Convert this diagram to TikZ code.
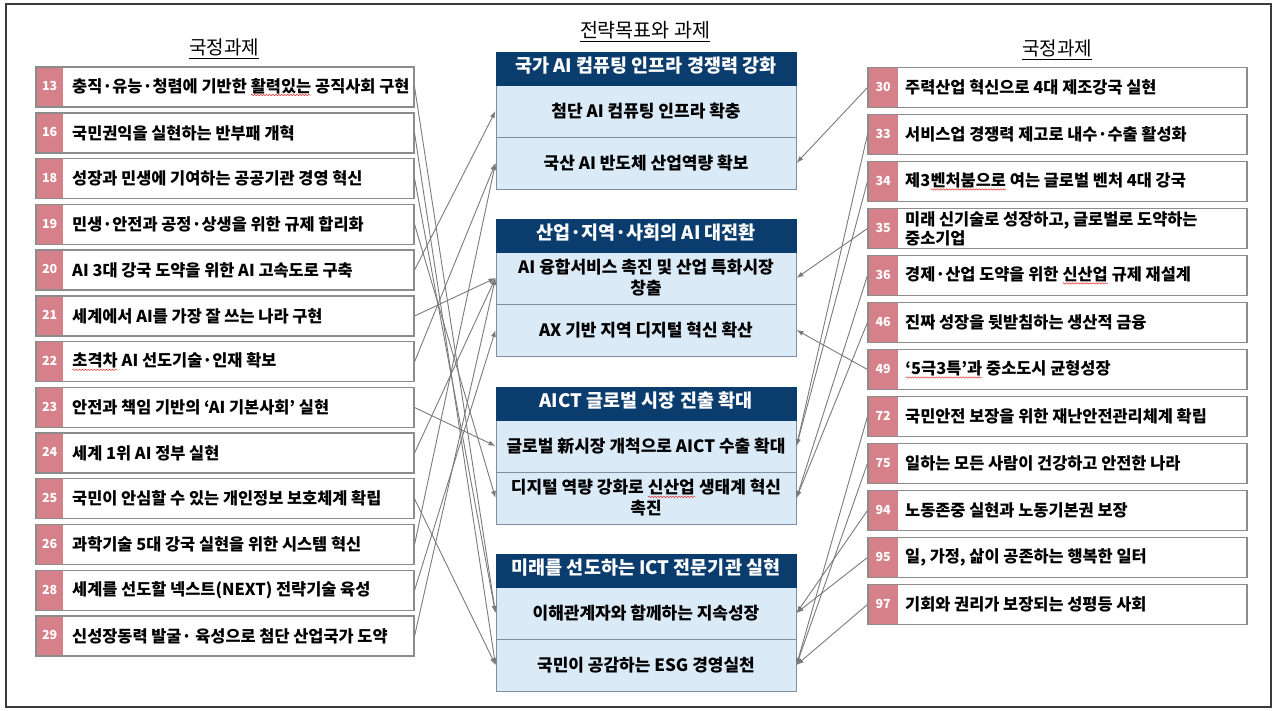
\documentclass[tikz,border=0pt]{standalone}
\usepackage{fontspec}
\setmainfont{Noto Sans CJK KR}
\usetikzlibrary{arrows.meta,calc,decorations.pathmorphing}
\definecolor{numpink}{RGB}{214,128,138}
\definecolor{navy}{HTML}{0B3C6E}
\definecolor{lblue}{HTML}{DAEAF7}
\definecolor{rowborder}{HTML}{7F8FA0}
\definecolor{boxgray}{HTML}{8C8C8C}
\definecolor{linegray}{HTML}{7A7A7A}
\definecolor{framegray}{HTML}{3A3A3A}
\definecolor{squigred}{HTML}{E03030}
\newcommand{\spellmark}[1]{\tikz[baseline=(sw.base)]{\node[inner sep=0pt, outer sep=0pt, minimum width=0pt, minimum height=0pt, draw=none, fill=none, anchor=base, text height=, text depth=] (sw) {#1};
  \draw[squigred, line width=0.5pt, decorate, decoration={snake, segment length=3pt, amplitude=0.7pt}]
   ($(sw.base west)+(0,3)$) -- ($(sw.base east)+(0,3)$);}}
\begin{document}
\begin{tikzpicture}[x=1pt,y=-1pt,
  lbox/.style={draw=boxgray, line width=1.1pt, minimum width=378pt, minimum height=40pt, inner sep=0pt},
  rbox/.style={draw=boxgray, line width=1.1pt, minimum width=379pt, minimum height=40pt, inner sep=0pt},
  ncell/.style={fill=numpink, text=white, font=\bfseries\fontsize{12.5}{12}\selectfont, inner sep=0pt, minimum height=40pt, anchor=west, text height=0.85em, text depth=0.1em},
  btext/.style={font=\bfseries\fontsize{16.4}{19}\selectfont, anchor=west, inner sep=0pt, align=left},
  head/.style={fill=navy, draw=navy, text=white, minimum width=300pt, minimum height=33pt, font=\bfseries\fontsize{18.5}{20}\selectfont, inner sep=0pt, text height=0.85em, text depth=0.1em},
  row/.style={fill=lblue, draw=rowborder, line width=1pt, minimum width=300pt, minimum height=52pt, font=\bfseries\fontsize{17}{21}\selectfont, align=center, inner sep=0pt},
  conn/.style={draw=linegray, line width=0.9pt, -{Latex[length=7pt,width=5pt]}},
  ttl/.style={inner sep=0pt, text height=0.85em, text depth=0.1em}
]
\useasboundingbox (0,0) rectangle (1275,710);
\draw[line width=1.6pt, draw=framegray] (6,4) rectangle (1271,707);

% titles
\node[ttl, font=\fontsize{19}{20}\selectfont] (tL) at (224,51) {국정과제};
\node[ttl, font=\fontsize{19.5}{20}\selectfont] (tC) at (645,34) {전략목표와 과제};
\node[ttl, font=\fontsize{19}{20}\selectfont] (tR) at (1057,52) {국정과제};
\foreach \t in {tL,tC,tR}
  \draw[line width=0.9pt] ($(\t.south west)+(0,2)$) -- ($(\t.south east)+(0,2)$);

% left column
\foreach \n/\y/\t in {
 13/87/{충직·유능·청렴에 기반한 \spellmark{활력있는} 공직사회 구현},
 16/133/{국민권익을 실현하는 반부패 개혁},
 18/178.5/{성장과 민생에 기여하는 공공기관 경영 혁신},
 19/224.3/{민생·안전과 공정·상생을 위한 규제 합리화},
 20/270/{AI 3대 강국 도약을 위한 AI 고속도로 구축},
 21/316/{세계에서 AI를 가장 잘 쓰는 나라 구현},
 22/361.8/{\spellmark{초격차} AI 선도기술·인재 확보},
 23/407.5/{안전과 책임 기반의 ‘AI 기본사회’ 실현},
 24/453/{세계 1위 AI 정부 실현},
 25/498.8/{국민이 안심할 수 있는 개인정보 보호체계 확립},
 26/544.5/{과학기술 5대 강국 실현을 위한 시스템 혁신},
 28/590.3/{세계를 선도할 넥스트(NEXT) 전략기술 육성},
 29/636/{신성장동력 발굴· 육성으로 첨단 산업국가 도약}}
{
  \node[ncell, minimum width=27pt] (L\n-n) at (36,\y) {\n};
  \node[lbox] (L\n) at (225,\y) {};
  \node[btext] (L\n-t) at (72,\y) {\t};
}

% right column
\foreach \n/\y/\t in {
 30/87.5/{주력산업 혁신으로 4대 제조강국 실현},
 33/134.5/{서비스업 경쟁력 제고로 내수·수출 활성화},
 34/181.5/{제3\spellmark{벤처붐으로} 여는 글로벌 벤처 4대 강국},
 35/228.5/{미래 신기술로 성장하고, 글로벌로 도약하는\\중소기업},
 36/275.5/{경제·산업 도약을 위한 \spellmark{신산업} 규제 재설계},
 46/322.5/{진짜 성장을 뒷받침하는 생산적 금융},
 49/369.5/{\spellmark{‘5극3특’과} 중소도시 균형성장},
 72/416.5/{국민안전 보장을 위한 재난안전관리체계 확립},
 75/463.5/{일하는 모든 사람이 건강하고 안전한 나라},
 94/510.5/{노동존중 실현과 노동기본권 보장},
 95/557.5/{일, 가정, 삶이 공존하는 행복한 일터},
 97/604.5/{기회와 권리가 보장되는 성평등 사회}}
{
  \node[ncell, minimum width=30pt] (R\n-n) at (868,\y) {\n};
  \node[rbox] (R\n) at (1057.5,\y) {};
  \node[btext] (R\n-t) at (905,\y) {\t};
}

% center groups
\foreach \g/\top/\h/\a/\b in {
 1/52/{국가 AI 컴퓨팅 인프라 경쟁력 강화}/{첨단 AI 컴퓨팅 인프라 확충}/{국산 AI 반도체 산업역량 확보},
 2/219/{산업·지역·사회의 AI 대전환}/{AI 융합서비스 촉진 및 산업 특화시장\\창출}/{AX 기반 지역 디지털 혁신 확산},
 3/387/{AICT 글로벌 시장 진출 확대}/{글로벌 新시장 개척으로 AICT 수출 확대}/{디지털 역량 강화로 \spellmark{신산업} 생태계 혁신\\촉진},
 4/554/{미래를 선도하는 ICT 전문기관 실현}/{이해관계자와 함께하는 지속성장}/{국민이 공감하는 ESG 경영실천}}
{
  \node[row] (G\g a) at (646,\top+59) {\a};
  \node[row] (G\g b) at (646,\top+111) {\b};
  \node[head] (G\g h) at (646,\top+16.5) {\h};
}

% connectors, left
\foreach \s/\t in {13/G4a, 16/G4b, 18/G4a, 19/G3b, 20/G1a, 21/G2a, 22/G1b, 23/G3a, 24/G2a, 25/G4b, 26/G1b, 28/G2b, 29/G2a}
  \draw[conn] (L\s.east) -- (\t.west);
% connectors, right
\foreach \s/\t in {30/G1b, 33/G3a, 34/G3a, 35/G2a, 36/G3b, 46/G3b, 49/G2b, 72/G4b, 75/G4b, 94/G4a, 95/G4a, 97/G4b}
  \draw[conn] (R\s.west) -- (\t.east);
\end{tikzpicture}
\end{document}
